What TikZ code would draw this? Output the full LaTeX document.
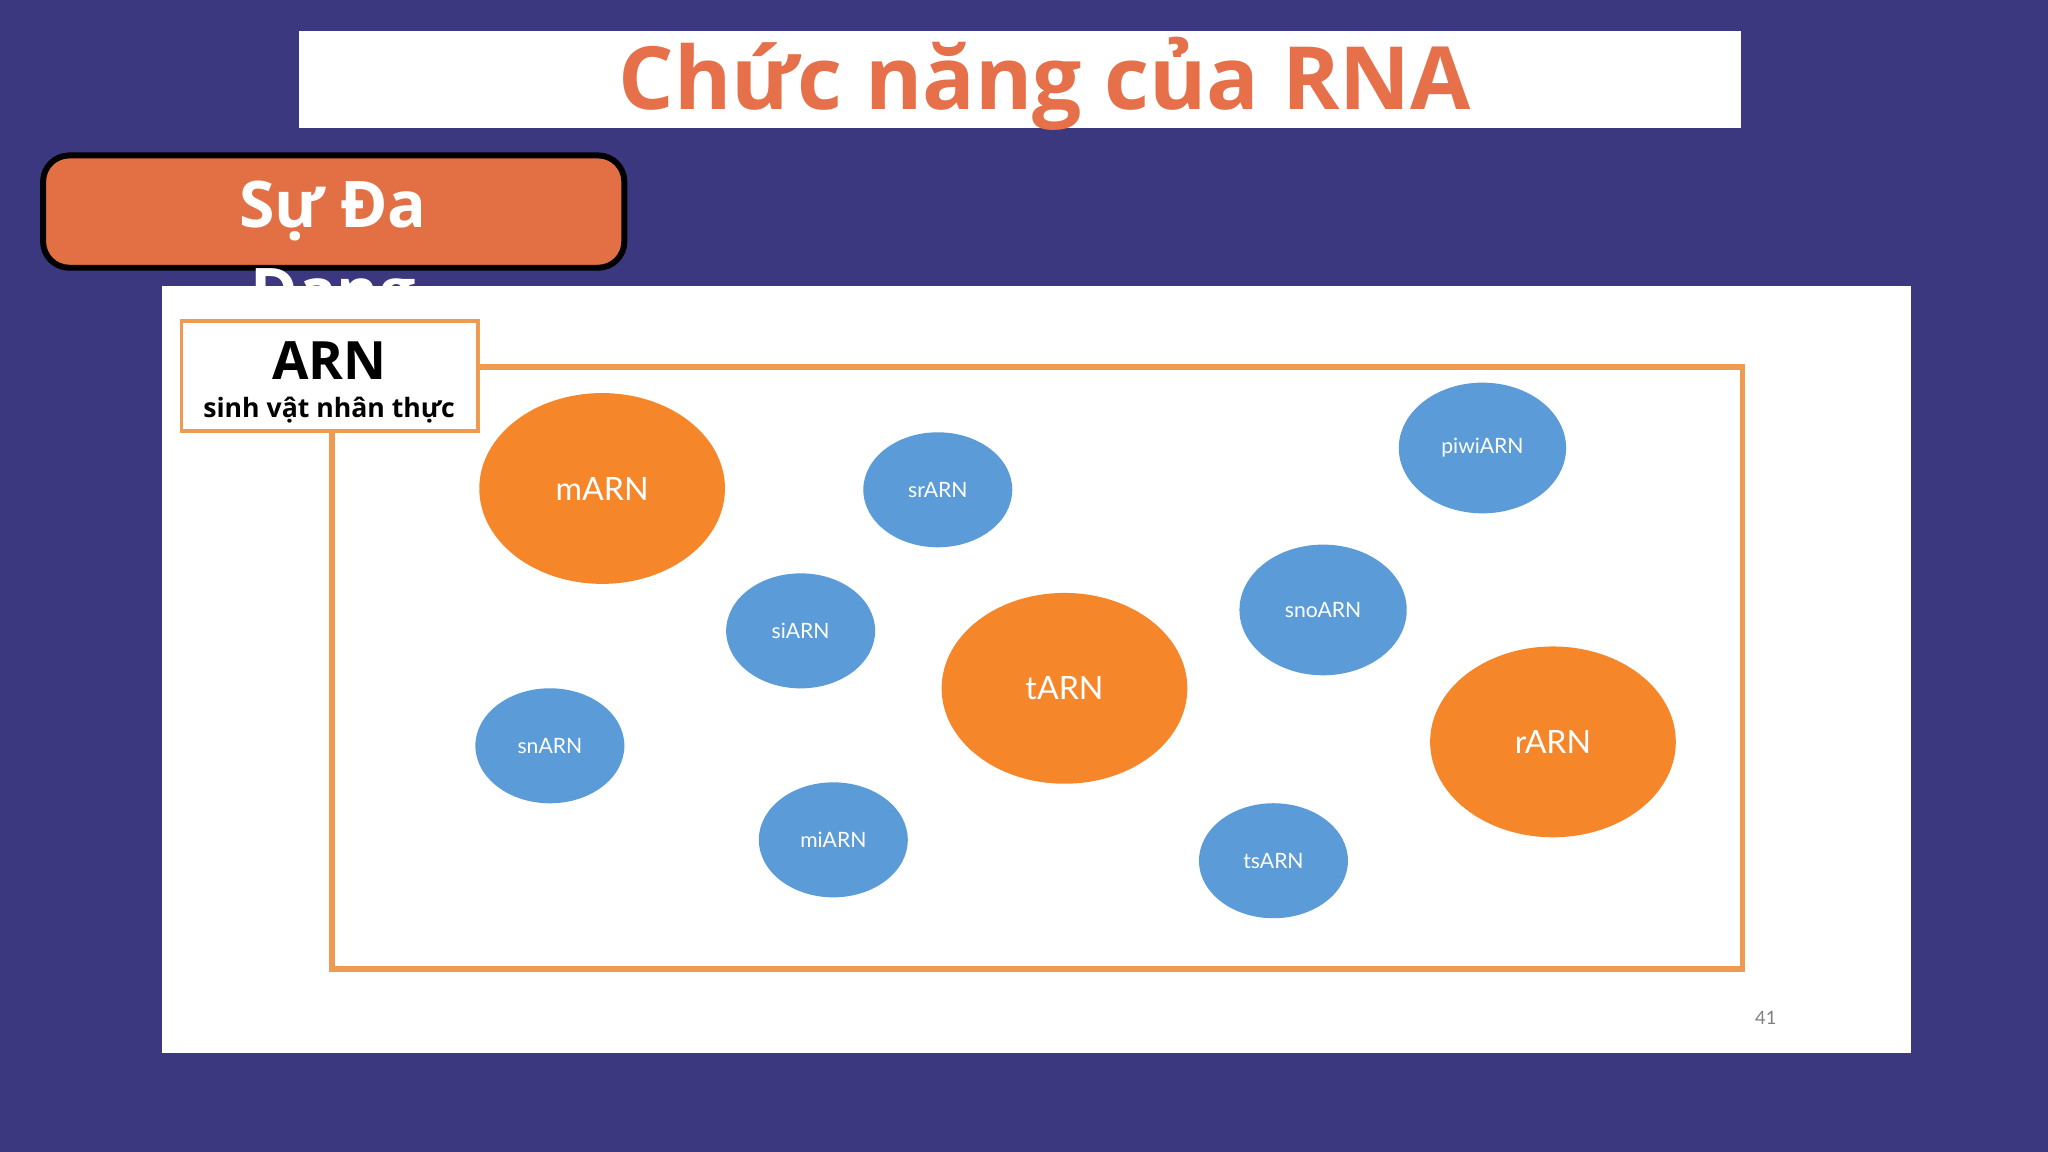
\documentclass[tikz,border=0pt]{standalone}
\usepackage{fontspec}
\setmainfont{Open Sans}
\newfontfamily\lato{Lato}
\usetikzlibrary{shapes.geometric}
\definecolor{bg}{HTML}{3C3880}
\definecolor{ttl}{HTML}{E5704A}
\definecolor{obox}{HTML}{E37044}
\definecolor{blu}{HTML}{5B9BD7}
\definecolor{org}{HTML}{F5862A}
\definecolor{frm}{HTML}{EE9A50}
\begin{document}
\begin{tikzpicture}[x=0.01cm,y=-0.01cm,
  big/.style={ellipse,inner sep=0pt,fill=org,text=white,minimum width=1.88cm,minimum height=1.46cm,font=\lato\fontsize{7}{8}\selectfont},
  small/.style={ellipse,inner sep=0pt,fill=blu,text=white,minimum width=1.14cm,minimum height=0.88cm,font=\lato\fontsize{4.6}{5}\selectfont},
  mid/.style={ellipse,inner sep=0pt,fill=blu,text=white,minimum width=1.28cm,minimum height=1.0cm,font=\lato\fontsize{4.6}{5}\selectfont}]
\fill[bg] (0,0) rectangle (1568,882);
\useasboundingbox (0,0) rectangle (1568,882);
\fill[white] (229,24) rectangle (1333,98);
\node[text=ttl,font=\bfseries\fontsize{19}{22}\selectfont] (title) at (800,64) {Chức năng của RNA};
\draw[line width=1.3pt,fill=obox,rounded corners=0.2cm] (33,119) rectangle (478,205);
\node[text=white,font=\bfseries\fontsize{14}{19}\selectfont,align=center,anchor=north,inner sep=0pt] (sda) at (255,138) {Sự Đa\\Dạng};
\fill[white] (124,219) rectangle (1463,806);
\draw[frm,line width=1.2pt] (254,281) rectangle (1334,742);
\draw[frm,line width=0.8pt,fill=white] (139,246) rectangle (366,330);
\node[font=\bfseries\fontsize{11.5}{13}\selectfont] (arn) at (252,276) {ARN};
\node[font=\bfseries\fontsize{5.8}{7}\selectfont] (svnt) at (252,314) {sinh vật nhân thực};
\node[big] (m) at (461,374) {mARN};
\node[big] (t) at (815,527) {tARN};
\node[big] (r) at (1189,568) {rARN};
\node[small] (sr) at (718,375) {srARN};
\node[small] (si) at (613,483) {siARN};
\node[small] (sn) at (421,571) {snARN};
\node[small] (mi) at (638,643) {miARN};
\node[small] (ts) at (975,659) {tsARN};
\node[mid] (piwi) at (1135,343) {piwiARN};
\node[mid] (sno) at (1013,467) {snoARN};
\node[text=gray,font=\lato\fontsize{4}{5}\selectfont] (pg) at (1352,779) {41};
\end{tikzpicture}
\end{document}
